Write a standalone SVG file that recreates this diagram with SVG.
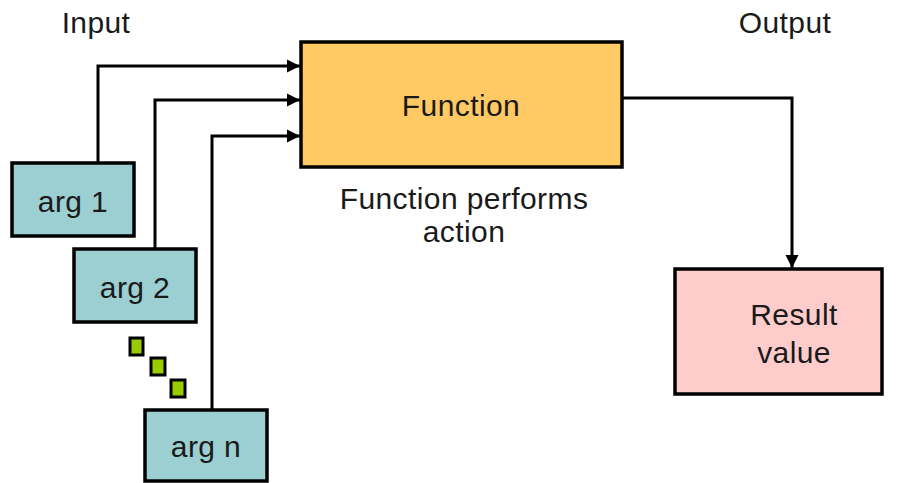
<svg xmlns="http://www.w3.org/2000/svg" width="902" height="483" viewBox="0 0 902 483">
<style>
.box{stroke:#000;stroke-width:3.5}
.arg{fill:#9ccfd1}
.t{font-family:"Liberation Sans",Arial,sans-serif;font-size:30px;letter-spacing:0.4px;fill:#1a1a1a;text-anchor:middle}
.c{fill:none;stroke:#000;stroke-width:3}
.dot{fill:#99cc00;stroke:#000;stroke-width:3}
</style>
<defs>
<marker id="ah" viewBox="0 0 10 10" refX="10" refY="5" markerWidth="4.5" markerHeight="4.5" orient="auto" markerUnits="strokeWidth">
<path d="M0,0 L10,5 L0,10 z" fill="#000"/>
</marker>
</defs>
<rect width="902" height="483" fill="#fff"/>
<text class="t" x="96" y="33">Input</text>
<text class="t" x="785" y="33">Output</text>
<g id="connectors">
<path class="c" d="M98,163 V66 H300" marker-end="url(#ah)"/>
<path class="c" d="M155,249 V100 H300" marker-end="url(#ah)"/>
<path class="c" d="M212,410 V136 H300" marker-end="url(#ah)"/>
<path class="c" d="M622,98 H792 V268" marker-end="url(#ah)"/>
</g>
<g id="function">
<rect class="box" x="301" y="42" width="321" height="125" fill="#ffc964"/>
<text class="t" x="461" y="116">Function</text>
</g>
<g id="caption">
<text class="t" x="464" y="209">Function performs</text>
<text class="t" x="464" y="242">action</text>
</g>
<g id="arg1">
<rect class="box arg" x="12" y="163" width="122" height="73"/>
<text class="t" x="73" y="212">arg 1</text>
</g>
<g id="arg2">
<rect class="box arg" x="74" y="249" width="122" height="73"/>
<text class="t" x="135" y="298">arg 2</text>
</g>
<g id="ellipsis">
<rect class="dot" x="130" y="338" width="13" height="17"/>
<rect class="dot" x="151" y="358" width="14" height="17"/>
<rect class="dot" x="171" y="380" width="14" height="17"/>
</g>
<g id="argn">
<rect class="box arg" x="145" y="410" width="122" height="71"/>
<text class="t" x="206" y="457">arg n</text>
</g>
<g id="result">
<rect class="box" x="675" y="269" width="207" height="125" fill="#ffcccc"/>
<text class="t" x="794" y="325">Result</text>
<text class="t" x="794" y="363">value</text>
</g>
</svg>
